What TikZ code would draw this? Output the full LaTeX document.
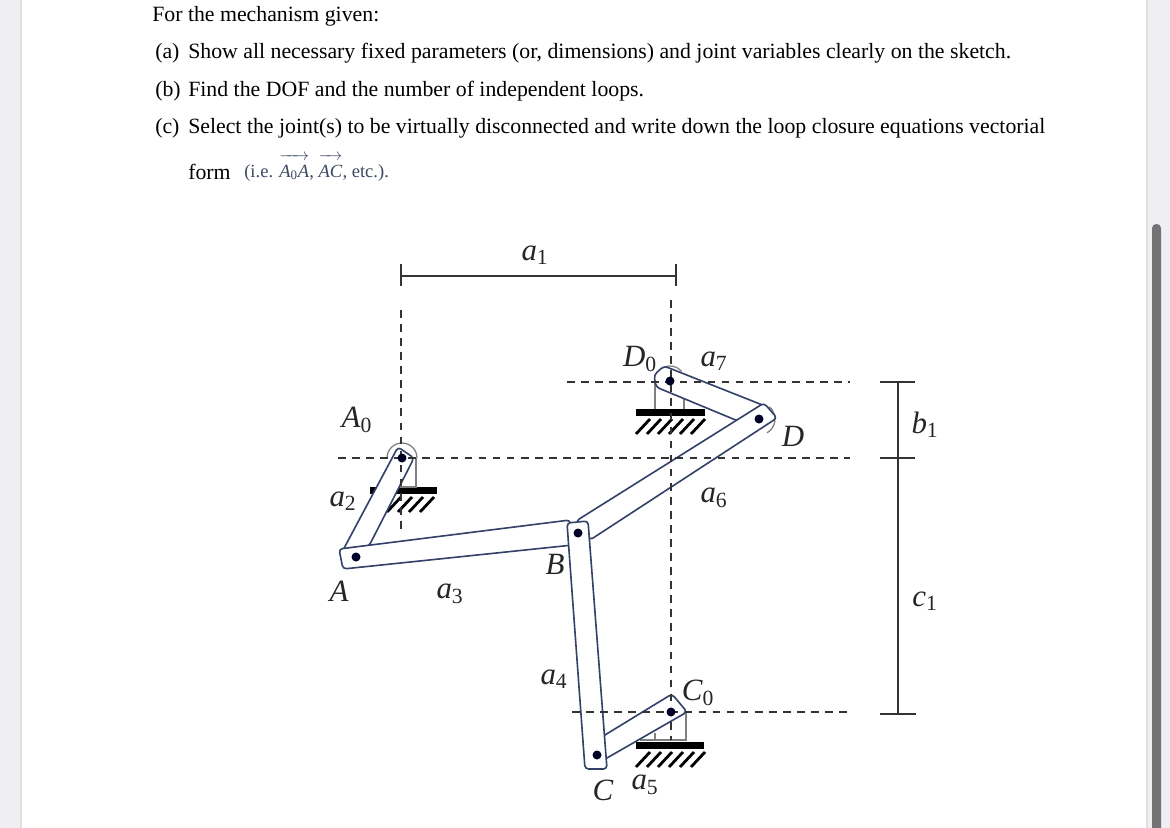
\documentclass[tikz,border=0pt]{standalone}
\usepackage{fontspec}
\setmainfont{Liberation Serif}
\usetikzlibrary{calc}
\definecolor{pagegray}{HTML}{EEEEF3}
\definecolor{barblue}{HTML}{34426A}
\definecolor{smallgray}{HTML}{3C4960}
\tikzset{
	question/.style={anchor=base west, inner sep=0pt, font=\fontsize{15.5}{18}\selectfont},
	symbol/.style={inner sep=0pt, font=\fontsize{22}{24}\selectfont, color=black!85},
	dim/.style={line width=0.8pt, color=black!80},
	centerline/.style={line width=0.8pt, color=black!80, dash pattern=on 5.5pt off 4.5pt},
	link/.style={line width=1.15pt, color=barblue, fill=white, rounded corners=2.5pt},
	support/.style={line width=0.9pt, color=black!50},
	pivot/.style={fill=black!85!blue}
}
% one fixed base: bar from x1 to x2 with the hatching under it
\def\fixedbase(#1:#2:#3){
	\fill[black] (#1, #3) rectangle (#2, #3+7);
	\pgfmathsetmacro{\hatchnext}{#1+11}
	\pgfmathsetmacro{\hatchlast}{#2-13}
	\foreach \hx in {#1,\hatchnext,...,\hatchlast}
		\draw[line width=2pt] (\hx, #3+25) -- (\hx+14, #3+10);
}
\def\lugarc[#1](#2:#3:#4){\draw[support] (#1) ++(#2:#4) arc[start angle=#2, end angle=#3, radius=#4];}
\def\itemlabel#1{\hbox to 0.825cm{#1\hfil}}
\def\symsub#1#2{\textit{#1}\textsubscript{#2}}
\def\vecover#1{$\overrightarrow{\hbox{\vrule height 0.95em width 0pt #1}}$}

\begin{document}
\begin{tikzpicture}[x=0.025cm, y=-0.025cm]
	\useasboundingbox (0, 0) rectangle (1170, 828);
	%%%%% PAGE %%%%%
	\fill[pagegray] (0, 0) rectangle (1170, 828);
	\fill[black!12] (20, 0) rectangle (22, 828);
	\fill[white] (22, 0) rectangle (1146, 828);
	\fill[black!12] (1146, 0) rectangle (1148, 828);
	\fill[black!55, rounded corners=3pt] (1152, 224) rectangle (1161, 840);

	%%%%% TEXT %%%%%
	\node[question] (line0) at (152, 21.5) {For the mechanism given:};
	\node[question] (linea) at (155, 59) {\itemlabel{(a)}Show all necessary fixed parameters (or, dimensions) and joint variables clearly on the sketch.};
	\node[question] (lineb) at (155, 96) {\itemlabel{(b)}Find the DOF and the number of independent loops.};
	\node[question] (linec) at (155, 134) {\itemlabel{(c)}Select the joint(s) to be virtually disconnected and write down the loop closure equations vectorial};
	\node[question] (lineform) at (188, 179) {form};
	\node[question, font=\fontsize{13.2}{15}\selectfont, color=smallgray] (lineie) at (244, 177) {(i.e. \vecover{\textit{A}\textsubscript{0}\textit{A}}, \vecover{\textit{AC}}, etc.).};

	%%%%% JOINT POINTS %%%%%
	\coordinate (Azero) at (402, 458);
	\coordinate (Dzero) at (670, 381);
	\coordinate (Czero) at (671, 712);
	\coordinate (A) at (356, 557);
	\coordinate (B) at (578, 533);
	\coordinate (C) at (597, 755);
	\coordinate (D) at (759, 419);

	%%%%% FIXED BASES %%%%%
	\fixedbase(387:437:487);
	\fill[black] (370, 487) rectangle (398, 494);
	\draw[support] (416, 458) -- (416, 487) -- (398, 487);
	\lugarc[Azero](180:360:15);

	\fixedbase(636:705:409);
	\draw[support] (655, 380) -- (655, 409) (684, 396) -- (684, 409);
	\lugarc[Dzero](180:320:15);

	\fixedbase(636:704:742);
	\draw[support] (686, 712) -- (686, 740) -- (640, 740) (655, 733) -- (655, 740);

	%%%%% LINKS %%%%%
	\filldraw[link] (398, 447) -- (414, 458) -- (369, 546) -- (342, 552) -- cycle;
	\filldraw[link] (339, 549) -- (570, 520) -- (573, 545) -- (343, 569) -- cycle;
	\filldraw[link] (664, 366) -- (765, 406) -- (738, 421) -- (656, 387) -- (654, 375) -- cycle;
	\lugarc[D](-50:60:16);
	\filldraw[link] (764, 403) -- (777, 418) -- (590, 540) -- (576, 521) -- cycle;
	\filldraw[link] (600, 738) -- (672, 694) -- (687, 712) -- (600, 762) -- cycle;
	\filldraw[link] (567, 523) -- (588, 521) -- (607, 769) -- (585, 769) -- cycle;

	%%%%% CENTER LINES %%%%%
	\draw[centerline] (401, 310) -- (401, 530);
	\draw[centerline] (671, 300) -- (671, 740);
	\draw[centerline] (567, 382) -- (850, 382);
	\draw[centerline] (338, 458) -- (850, 458);
	\draw[centerline] (572, 712) -- (850, 712);

	\foreach \j in {Azero, Dzero, Czero, A, B, C, D}
		\fill[pivot] (\j) circle (4.5);

	%%%%% DIMENSIONS %%%%%
	\draw[dim] (401, 276) -- (676, 276);
	\draw[dim] (401, 264) -- (401, 286);
	\draw[dim] (676, 264) -- (676, 286);
	\draw[dim] (898, 382) -- (898, 714);
	\draw[dim] (880, 382) -- (915, 382);
	\draw[dim] (880, 458) -- (915, 458);
	\draw[dim] (880, 714) -- (916, 714);

	%%%%% LABELS %%%%%
	\node[symbol] (la1) at (535, 255) {\symsub{a}{1}};
	\node[symbol] (lb1) at (925, 425) {\symsub{b}{1}};
	\node[symbol] (lc1) at (925, 601) {\symsub{c}{1}};
	\node[symbol] (lAzero) at (357, 420) {\symsub{A}{0}};
	\node[symbol] (la2) at (343, 501) {\symsub{a}{2}};
	\node[symbol] (lA) at (339, 591) {\textit{A}};
	\node[symbol] (la3) at (450, 594) {\symsub{a}{3}};
	\node[symbol] (lB) at (555, 564) {\textit{B}};
	\node[symbol] (la4) at (554, 679) {\symsub{a}{4}};
	\node[symbol] (lDzero) at (640, 359) {\symsub{D}{0}};
	\node[symbol] (la7) at (714, 361) {\symsub{a}{7}};
	\node[symbol] (lD) at (793, 436) {\textit{D}};
	\node[symbol] (la6) at (714, 498) {\symsub{a}{6}};
	\node[symbol] (lCzero) at (698, 693) {\symsub{C}{0}};
	\node[symbol] (lC) at (603, 790) {\textit{C}};
	\node[symbol] (la5) at (645, 785) {\symsub{a}{5}};
\end{tikzpicture}
\end{document}
